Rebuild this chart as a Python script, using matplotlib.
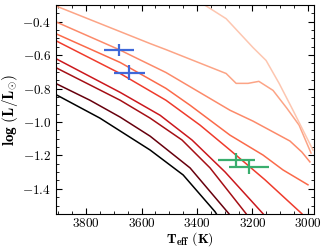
import numpy as np
import matplotlib
matplotlib.use("Agg")
import matplotlib.pyplot as plt
from matplotlib.ticker import MultipleLocator

plt.rcParams['font.family'] = 'serif'
plt.rcParams['font.serif'] = ['cmr10']
plt.rcParams['mathtext.fontset'] = 'cm'
plt.rcParams['axes.formatter.use_mathtext'] = True

# isochrone tracks (Teff, log L), oldest/faintest first
t1 = [3910, 3750, 3569, 3450, 3335, 3317]
l1 = [-0.835, -0.977, -1.168, -1.317, -1.537, -1.585]
t2 = [3910, 3786, 3677, 3569, 3425, 3285, 3270]
l2 = [-0.769, -0.870, -0.971, -1.085, -1.275, -1.549, -1.585]
t3 = [3910, 3677, 3569, 3454, 3353, 3223, 3209]
l3 = [-0.674, -0.870, -0.977, -1.108, -1.275, -1.549, -1.585]
t4 = [3910, 3677, 3533, 3418, 3299, 3162, 3148]
l4 = [-0.620, -0.823, -0.960, -1.108, -1.299, -1.549, -1.585]
t5 = [3910, 3677, 3512, 3389, 3281, 3155, 3022, 3007]
l5 = [-0.513, -0.710, -0.870, -1.019, -1.168, -1.346, -1.549, -1.585]
t6 = [3910, 3677, 3512, 3425, 3281, 3162, 3090, 3000]
l6 = [-0.471, -0.644, -0.799, -0.900, -1.079, -1.198, -1.287, -1.376]
t7 = [3910, 3681, 3512, 3281, 3198, 3065, 3022, 2993]
l7 = [-0.400, -0.567, -0.704, -0.930, -0.995, -1.114, -1.180, -1.239]
t8 = [3910, 3569, 3512, 3295, 3259, 3216, 3177, 3126, 3076, 3032, 2989]
l8 = [-0.305, -0.531, -0.567, -0.710, -0.769, -0.769, -0.757, -0.811, -0.918, -1.019, -1.186]
t9 = [3411, 3368, 3295, 3198, 3151, 3104, 3054, 2982]
l9 = [-0.263, -0.305, -0.382, -0.555, -0.632, -0.769, -0.930, -1.168]

tracks_t = [t1, t2, t3, t4, t5, t6, t7, t8, t9]
tracks_l = [l1, l2, l3, l4, l5, l6, l7, l8, l9]
colors = ['#000000', '#67000d', '#a50f15', '#cb181d', '#ef3b2c',
          '#fb6a4a', '#fc8a6a', '#fca486', '#fdc6b0']

# observed stars
blue_t = [3681, 3645]
blue_terr = [55, 56]
blue_l = [-0.567, -0.704]
blue_lerr = [0.036, 0.045]
green_t = [3259, 3213]
green_terr = [67, 72]
green_l = [-1.227, -1.269]
green_lerr = [0.042, 0.042]

fig = plt.figure(figsize=(3.32, 2.49), dpi=100)
ax = fig.add_axes([0.169, 0.141, 0.777, 0.839])

for t, l, c in zip(tracks_t, tracks_l, colors):
    ax.plot(t, l, color=c, lw=1.1)

ax.errorbar(blue_t, blue_l, xerr=blue_terr, yerr=blue_lerr, fmt='none',
            ecolor='#3f68d9', elinewidth=1.6, capsize=0, zorder=5)
ax.errorbar(green_t, green_l, xerr=green_terr, yerr=green_lerr, fmt='none',
            ecolor='#3aae6e', elinewidth=1.6, capsize=0, zorder=5)

ax.set_xlim(3908, 2978)
ax.set_ylim(-1.55, -0.3)
ax.xaxis.set_major_locator(MultipleLocator(200))
ax.xaxis.set_minor_locator(MultipleLocator(50))
ax.yaxis.set_major_locator(MultipleLocator(0.2))
ax.yaxis.set_minor_locator(MultipleLocator(0.05))
ax.tick_params(which='both', direction='in', top=True, right=True, labelsize=9.5)
ax.tick_params(which='major', length=4, width=0.8)
ax.tick_params(axis='x', which='major', pad=2.5)
ax.tick_params(which='minor', length=2, width=0.6)

ax.set_xlabel(r'$\mathbf{T_{eff}\ (K)}$', fontsize=10)
ax.xaxis.set_label_coords(0.52, -0.078)
ax.set_ylabel(r'$\mathbf{log\ (L/L_{\odot})}$', fontsize=11, labelpad=2)

fig.savefig('out.png', dpi=100)
